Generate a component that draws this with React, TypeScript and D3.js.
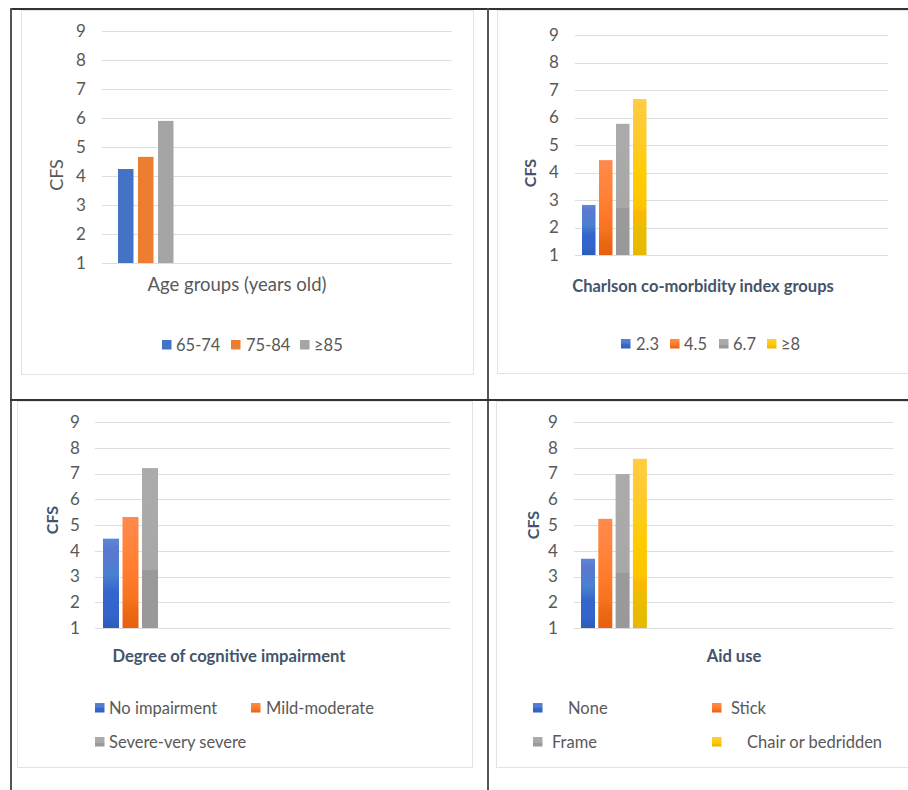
import React from "react";
import * as d3 from "d3";

// ---------- DATA ----------
const ageGroups = ["65-74", "75-84", "≥85"];
const ageCFS = [4.24, 4.66, 5.9];

const charlsonGroups = ["2.3", "4.5", "6.7", "≥8"];
const charlsonCFS = [2.82, 4.45, 5.77, 6.67];

const cognitiveGroups = ["No impairment", "Mild-moderate", "Severe-very severe"];
const cognitiveCFS = [4.47, 5.31, 7.21];

const aidGroups = ["None", "Stick", "Frame", "Chair or bedridden"];
const aidCFS = [3.69, 5.24, 6.98, 7.57];

const yTicks = [1, 2, 3, 4, 5, 6, 7, 8, 9];

const FONT = "Lato, 'Open Sans', sans-serif";
const TICK_COLOR = "#595959";
const TITLE_COLOR = "#44546a";
const GRID = "#dedede";

const flatColors = ["#4472c4", "#ed7d31", "#a5a5a5"];
const gradIds = ["gBlue", "gOrange", "gGray", "gYellow"];

type LegendItem = { sx: number; tx: number; y: number };

type PanelCfg = {
  frame: [number, number, number, number];
  plotX: [number, number];
  plotY: [number, number]; // y of 9, y of 1
  tickX: number;
  cfs: [number, number];
  bold: boolean;
  barStart: number;
  barStep: number;
  barWidth: number;
  title: string;
  titlePos: [number, number];
  titleSize: number;
  cats: string[];
  vals: number[];
  gradient: boolean;
  legend: LegendItem[];
};

const panels: PanelCfg[] = [
  {
    frame: [21, 10, 452, 364],
    plotX: [102, 452],
    plotY: [31, 263],
    tickX: 81,
    cfs: [57, 175],
    bold: false,
    barStart: 118,
    barStep: 20,
    barWidth: 15.5,
    title: "Age groups (years old)",
    titlePos: [237, 291],
    titleSize: 18.5,
    cats: ageGroups,
    vals: ageCFS,
    gradient: false,
    legend: [
      { sx: 162, tx: 176, y: 345 },
      { sx: 231, tx: 246, y: 345 },
      { sx: 300, tx: 314, y: 345 },
    ],
  },
  {
    frame: [497, 10, 420, 363],
    plotX: [575, 888],
    plotY: [35, 255],
    tickX: 554,
    cfs: [530, 173],
    bold: true,
    barStart: 582,
    barStep: 17,
    barWidth: 13.5,
    title: "Charlson co-morbidity index groups",
    titlePos: [703, 292],
    titleSize: 16.5,
    cats: charlsonGroups,
    vals: charlsonCFS,
    gradient: true,
    legend: [
      { sx: 621, tx: 636, y: 344 },
      { sx: 670, tx: 684, y: 344 },
      { sx: 719, tx: 733, y: 344 },
      { sx: 767, tx: 781, y: 344 },
    ],
  },
  {
    frame: [17, 401, 455, 366],
    plotX: [95, 450],
    plotY: [422, 628],
    tickX: 75,
    cfs: [52, 520],
    bold: true,
    barStart: 103,
    barStep: 19.5,
    barWidth: 16,
    title: "Degree of cognitive impairment",
    titlePos: [229, 662],
    titleSize: 16.6,
    cats: cognitiveGroups,
    vals: cognitiveCFS,
    gradient: true,
    legend: [
      { sx: 95, tx: 109, y: 708 },
      { sx: 251, tx: 266, y: 708 },
      { sx: 95, tx: 109, y: 742 },
    ],
  },
  {
    frame: [496, 401, 420, 366],
    plotX: [574, 893],
    plotY: [422, 628],
    tickX: 553,
    cfs: [533, 525],
    bold: true,
    barStart: 581,
    barStep: 17.3,
    barWidth: 14,
    title: "Aid use",
    titlePos: [734, 662],
    titleSize: 16.6,
    cats: aidGroups,
    vals: aidCFS,
    gradient: true,
    legend: [
      { sx: 533, tx: 568, y: 708 },
      { sx: 712, tx: 731, y: 708 },
      { sx: 533, tx: 552, y: 742 },
      { sx: 712, tx: 747, y: 742 },
    ],
  },
];

function Panel({ p }: { p: PanelCfg }) {
  const y = d3.scaleLinear().domain([1, 9]).range([p.plotY[1], p.plotY[0]]);
  const n = p.cats.length;
  const x = d3
    .scaleBand<string>()
    .domain(p.cats)
    .range([p.barStart, p.barStart + p.barStep * (n - 1) + p.barWidth])
    .paddingInner((p.barStep - p.barWidth) / p.barStep)
    .paddingOuter(0)
    .align(0);
  const fillFor = (i: number) =>
    p.gradient ? `url(#${gradIds[i]})` : flatColors[i];
  const [fx, fy, fw, fh] = p.frame;
  return (
    <g>
      <rect x={fx + 0.5} y={fy + 0.5} width={fw} height={fh} fill="#fff" stroke="#e3e3e3" strokeWidth={1} />
      {yTicks.map((t) => (
        <g key={t}>
          <line x1={p.plotX[0]} x2={p.plotX[1]} y1={Math.round(y(t)) + 0.5} y2={Math.round(y(t)) + 0.5} stroke={GRID} strokeWidth={1} />
          <text x={p.tickX} y={y(t)} dy="0.35em" textAnchor="middle" fontSize={17} fill={TICK_COLOR} fontFamily={FONT}>
            {t}
          </text>
        </g>
      ))}
      <text
        transform={`translate(${p.cfs[0]},${p.cfs[1]}) rotate(-90)`}
        textAnchor="middle"
        dy="0.35em"
        fontSize={p.bold ? 16 : 18}
        fontWeight={p.bold ? 700 : 400}
        fill={p.bold ? TITLE_COLOR : TICK_COLOR}
        fontFamily={FONT}
      >
        CFS
      </text>
      {p.cats.map((c, i) => (
        <rect key={c} x={x(c)} y={y(p.vals[i])} width={x.bandwidth()} height={y(1) - y(p.vals[i])} fill={fillFor(i)} />
      ))}
      <text
        x={p.titlePos[0]}
        y={p.titlePos[1]}
        textAnchor="middle"
        fontSize={p.titleSize}
        fontWeight={p.bold ? 700 : 400}
        fill={p.bold ? TITLE_COLOR : TICK_COLOR}
        fontFamily={FONT}
      >
        {p.title}
      </text>
      {p.cats.map((c, i) => {
        const l = p.legend[i];
        return (
          <g key={"lg" + c}>
            <rect x={l.sx} y={l.y - 5} width={9.5} height={9.5} fill={fillFor(i)} />
            <text x={l.tx} y={l.y} dy="0.35em" fontSize={16.5} fill={TICK_COLOR} fontFamily={FONT}>
              {c}
            </text>
          </g>
        );
      })}
    </g>
  );
}

export default function App() {
  return (
    <svg width={908} height={790} style={{ position: "absolute", left: 0, top: 0, background: "#fff" }}>
      <defs>
        <linearGradient id="gBlue" x1="0" y1="0" x2="0" y2="1">
          <stop offset="0" stopColor="#5a8ad6" />
          <stop offset="0.12" stopColor="#5a78d0" />
          <stop offset="0.4" stopColor="#4a80d0" />
          <stop offset="0.6" stopColor="#3366cc" />
          <stop offset="0.85" stopColor="#3264cc" />
          <stop offset="1" stopColor="#2d5db5" />
        </linearGradient>
        <linearGradient id="gOrange" x1="0" y1="0" x2="0" y2="1">
          <stop offset="0" stopColor="#ff8a4e" />
          <stop offset="0.35" stopColor="#ff8236" />
          <stop offset="0.55" stopColor="#ff7a2a" />
          <stop offset="0.75" stopColor="#f5721e" />
          <stop offset="0.85" stopColor="#ea6a14" />
          <stop offset="1" stopColor="#e85e10" />
        </linearGradient>
        <linearGradient id="gGray" x1="0" y1="0" x2="0" y2="1">
          <stop offset="0" stopColor="#ababab" />
          <stop offset="0.64" stopColor="#a8a8a8" />
          <stop offset="0.64" stopColor="#9a9a9a" />
          <stop offset="1" stopColor="#999999" />
        </linearGradient>
        <linearGradient id="gYellow" x1="0" y1="0" x2="0" y2="1">
          <stop offset="0" stopColor="#ffcc44" />
          <stop offset="0.3" stopColor="#ffcb22" />
          <stop offset="0.5" stopColor="#ffcc00" />
          <stop offset="0.7" stopColor="#ffc400" />
          <stop offset="0.72" stopColor="#ffb800" />
          <stop offset="0.82" stopColor="#ebbd00" />
          <stop offset="1" stopColor="#e6b800" />
        </linearGradient>
      </defs>
      {panels.map((p, i) => (
        <Panel key={i} p={p} />
      ))}
      {/* table borders */}
      <line x1={10} x2={908} y1={9} y2={9} stroke="#333" strokeWidth={2} />
      <line x1={11} x2={11} y1={8} y2={790} stroke="#555" strokeWidth={2} />
      <line x1={488} x2={488} y1={8} y2={790} stroke="#555" strokeWidth={2} />
      <line x1={10} x2={908} y1={400} y2={400} stroke="#333" strokeWidth={2} />
    </svg>
  );
}
